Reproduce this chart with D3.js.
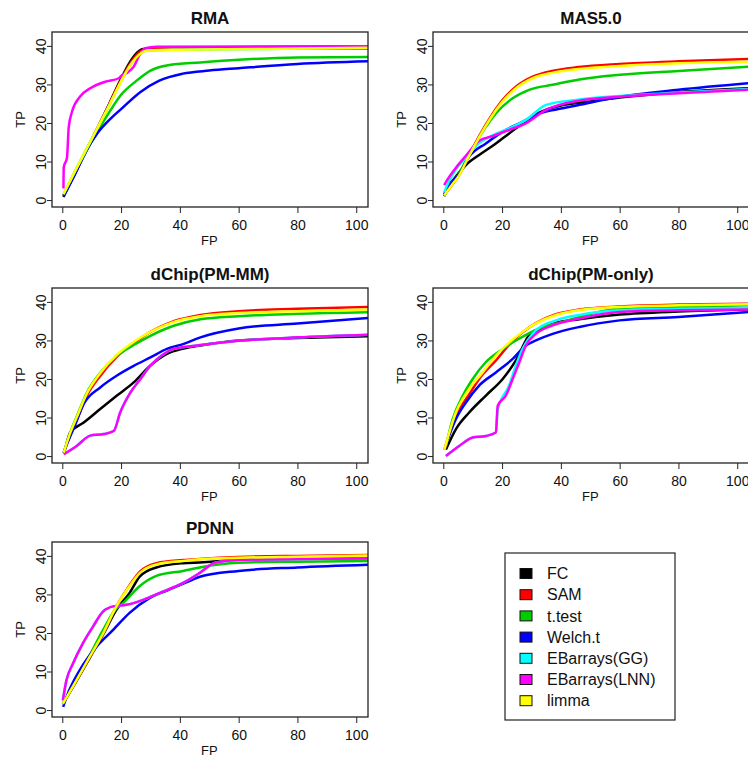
<!DOCTYPE html>
<html>
<head>
<meta charset="utf-8">
<script src="https://cdn.jsdelivr.net/npm/d3@7"></script>
<style>
body { margin: 0; background: #fff; }
svg text { font-family: "Liberation Sans", Arial, sans-serif; fill: #111; }
</style>
</head>
<body>
<script>
// Panel titles, methods and axis ticks
var panelTitles = ["RMA", "MAS5.0", "dChip(PM-MM)", "dChip(PM-only)", "PDNN"];
var methods = ["FC", "SAM", "t.test", "Welch.t", "EBarrays(GG)", "EBarrays(LNN)", "limma"];
var methodColors = ["#000000", "#ff0000", "#00cd00", "#0000ff", "#00ffff", "#ff00ff", "#ffff00"];
var xTicks = [0, 20, 40, 60, 80, 100];
var yTicks = [0, 10, 20, 30, 40];

// Curves, [FP, TP]
// RMA
var rmaFC = [[0.4,0.8],[4,6.3],[8,12.5],[12,18.6],[16,25],[20,31.5],[23,35.8],[25.5,38.3],[27.5,39.2],[35,39.3],[104,39.4]];
var rmaSAM = [[0.4,1.2],[4,6.8],[8,12.8],[12,18.8],[16,25],[20,31.2],[23,35.3],[26,38.2],[29,39.3],[45,39.6],[104,39.9]];
var rmaTtest = [[0.4,1.2],[4,6.6],[8,12.4],[12,17.8],[16,22.8],[20,27.3],[25,30.8],[30,33.6],[36,35],[47,35.7],[60,36.4],[80,37],[104,37.1]];
var rmaWelch = [[0.4,1],[4,6.2],[8,12.6],[12,17.4],[16,20.8],[20,23.6],[26.5,28],[33,31],[41,32.8],[50,33.6],[60,34.2],[80,35.3],[104,36]];
var rmaGG = [[0.4,1.5],[4,7],[8,12.9],[12,18.7],[16,24.6],[20,30.8],[23,34.8],[26,37.6],[29,38.8],[40,39],[70,39.2],[104,39.5]];
var rmaLNN = [[0.4,3],[0.5,8.5],[1.6,11],[2.2,19],[3.3,22.9],[6,26.8],[9.5,29],[14.6,30.7],[19.2,31.6],[20.3,32.4],[22,33],[24.3,34.6],[26,37.2],[28.2,39.4],[32,39.8],[104,39.9]];
var rmaLimma = [[0.4,1.5],[4,7],[8,12.9],[12,18.7],[16,24.6],[20,30.8],[23,34.8],[26,37.6],[29,38.8],[40,39],[70,39.2],[104,39.5]];

// MAS5.0
var masFC = [[0.3,1],[2,3.5],[4.3,6.1],[7.7,9.1],[12.2,11.7],[17.9,14.7],[22.4,17.3],[27,19.9],[33,22.8],[40,24.5],[50,25.6],[60,26.6],[80,28],[104,29]];
var masSAM = [[0.3,1.2],[3,4],[5.4,6.5],[8,10.5],[10,13.5],[14.5,19.6],[20,25.8],[24.7,29.4],[30.4,32],[37,33.5],[46,34.5],[60,35.3],[80,36],[104,36.6]];
var masTtest = [[0.3,1.2],[3,4.2],[5.4,7],[8,10.6],[10,13],[12,16],[14.5,19],[17.9,22.5],[23.6,26.4],[29.2,28.6],[37.2,29.9],[46.3,31.3],[60,32.5],[80,33.5],[104,34.6]];
var masWelch = [[0.3,1.5],[2,4],[5.4,6.7],[8.8,11.3],[14.5,14.7],[21.3,18.2],[25.9,19.9],[32.7,22.5],[40.6,23.8],[46.3,24.7],[60,26.8],[80,28.6],[104,30.3]];
var masGG = [[0.3,2],[2,5],[4.3,8],[7.7,11],[12.2,14.8],[16.8,16.8],[22.4,18.6],[28.1,20.8],[35,24.7],[46.3,26.1],[60,27],[80,27.9],[104,28.8]];
var masLNN = [[0.3,3.9],[2,6],[4.3,8.4],[7.7,11.5],[12.2,15.4],[16.8,16.6],[22.4,18.2],[28.1,19.9],[35,23.4],[46.3,25.8],[60,26.8],[80,27.7],[104,28.6]];
var masLimma = [[0.3,1.2],[3,4],[5.4,6.4],[8,10.3],[10,13.2],[14.5,19.3],[20,25.4],[24.7,29],[30.4,31.6],[37,33],[46,34],[60,34.8],[80,35.5],[104,35.9]];

// dChip(PM-MM)
var pmmmFC = [[0.5,0.9],[0.9,1.8],[2.7,6.1],[7.3,8.7],[12.9,12.2],[18.6,15.7],[24.3,19.1],[30,23.5],[35.6,26.5],[41.3,27.9],[47,28.7],[60,30],[80,30.6],[104,31.1]];
var pmmmSAM = [[0.5,0.9],[2.7,5.5],[5,9.5],[8.4,15.7],[12.9,20.8],[18.6,25.8],[24.3,29.3],[30,32.2],[37.9,35],[47,36.6],[60,37.6],[80,38.2],[104,38.7]];
var pmmmTtest = [[0.5,0.9],[2.7,6.1],[5,10.4],[8.4,16.5],[12.9,21.6],[18.6,26],[24.3,28.8],[30,31.2],[37.9,33.8],[47,35.5],[60,36.3],[80,36.9],[104,37.3]];
var pmmmWelch = [[0.5,0.9],[1.6,3.1],[4,7.4],[7.3,13.5],[12.9,17.8],[18.6,20.9],[24.3,23.4],[30,25.6],[35.6,27.8],[41.3,29.1],[47,30.8],[60,33.1],[80,34.4],[104,35.8]];
var pmmmGG = [[0.5,0.5],[5,2.7],[9.5,5.3],[14.1,5.7],[17.5,6.5],[19.7,11.3],[23.2,16.5],[26.6,20],[30,23.5],[33.8,26.1],[38,27.8],[47,28.8],[60,29.9],[80,30.8],[104,31.5]];
var pmmmLNN = [[0.5,0.5],[5,2.7],[9.5,5.3],[14.1,5.7],[17.5,6.5],[19.7,11.3],[23.2,16.5],[26.6,20],[30,23.5],[33.8,26.1],[38,27.8],[47,28.8],[60,29.9],[80,30.8],[104,31.5]];
var pmmmLimma = [[0.5,0.9],[2.7,6],[5,10.2],[8.4,16.3],[12.9,21.5],[18.6,26.3],[24.3,29.6],[30,32.2],[37.9,34.8],[47,36.3],[60,37.1],[80,37.6],[104,38]];

// dChip(PM-only)
var pmoFC = [[0.9,1.7],[4.3,7],[8.8,11.3],[14.5,15.7],[20.2,20],[24.7,24.8],[29.2,31.3],[32,32.6],[38,34.5],[46.3,35.5],[60,36.7],[80,37.5],[104,38]];
var pmoSAM = [[0.4,1.7],[4.3,10.5],[8.8,16],[12.2,20],[17.9,24.8],[22,28.5],[26,31.5],[31.5,34.5],[38.3,36.8],[46.3,38],[60,38.8],[80,39.3],[104,39.5]];
var pmoTtest = [[0.9,2.6],[3.2,9.6],[6.6,15.6],[10,20],[14.5,24.4],[20.2,27.8],[25.9,30.5],[32.7,33.1],[40.6,34.8],[46.3,36.1],[60,38.2],[80,38.6],[104,39.1]];
var pmoWelch = [[1.5,4.3],[4.3,9.6],[7.7,13.9],[12.2,18.3],[17.9,21.7],[23.6,25.2],[28.1,28.7],[31.5,30],[37.2,31.7],[46.3,33.5],[60,35.2],[80,36.1],[104,37.4]];
var pmoGG = [[0.9,0],[5.4,2.6],[10,4.8],[14.5,5.2],[17.9,6.1],[18.5,12],[22.4,18.3],[24.7,23.5],[27,27.8],[31.5,32.6],[38.3,35.2],[46.3,36.6],[60,37.8],[80,38.2],[104,38.5]];
var pmoLNN = [[0.9,0],[5.4,2.6],[10,4.8],[14.5,5.2],[17.9,6.1],[18.5,13],[21.3,15.7],[23.6,20],[25.9,24.4],[28.1,28.7],[31.5,31.7],[37.2,33.9],[46.3,35.7],[60,37.4],[80,37.8],[104,38]];
var pmoLimma = [[0.4,1.7],[4.3,11.3],[8.8,17.4],[13.4,21.7],[19,27],[24.7,30.9],[31.5,34.4],[38.3,36.6],[46.3,37.9],[60,38.7],[80,39.1],[104,39.4]];

// PDNN
var pdnnFC = [[0.2,1.6],[4.8,7.5],[9.3,13.5],[13.9,19.6],[18.4,26],[22.9,30.4],[26.4,34.7],[32,37],[41.1,38.1],[46.8,38.3],[60,39],[80,39.2],[104,39.4]];
var pdnnSAM = [[0.2,1.6],[4.8,7.7],[9.3,13.8],[13.9,19.9],[18.4,26.9],[22.9,32.4],[26.4,35.9],[32,38.1],[41.1,38.9],[46.8,39.2],[60,39.7],[80,40],[104,40.2]];
var pdnnTtest = [[0.2,1.6],[4.8,7.9],[9.3,14.2],[13.9,20.8],[18,26],[20.7,27.8],[26.4,32.2],[32,34.8],[41.1,36.1],[46.8,37],[60,38.2],[80,38.5],[104,38.7]];
var pdnnWelch = [[0.3,0.8],[1.4,3.3],[5.9,10.3],[11.6,16.4],[17.3,20.8],[22.9,25.2],[29.8,29.1],[36.6,31.3],[43.4,33.5],[46.8,34.6],[60,36.1],[80,37],[104,37.7]];
var pdnnGG = [[0.2,2.5],[1.4,7.7],[3.6,12],[7,17.3],[10.4,21.6],[13.9,25.6],[17.3,26.9],[21.8,27.3],[27.5,28.6],[33.2,30.4],[41.1,33],[46.8,35.6],[52,38.2],[60,38.9],[80,39.2],[104,39.3]];
var pdnnLNN = [[0.2,2.5],[1.4,7.7],[3.6,12],[7,17.3],[10.4,21.6],[13.9,25.6],[17.3,26.9],[21.8,27.3],[27.5,28.6],[33.2,30.4],[41.1,33],[46.8,35.6],[52,38.2],[60,38.9],[80,39.2],[104,39.3]];
var pdnnLimma = [[0.2,1.6],[4.8,7.7],[9.3,13.8],[13.9,19.9],[18.4,26.9],[22.9,32.2],[26.4,35.6],[32,37.8],[41.1,38.7],[46.8,39.1],[60,39.5],[80,39.8],[104,40.1]];

// one row of curves per panel, in method order
var panelCurves = [
	[rmaFC, rmaSAM, rmaTtest, rmaWelch, rmaGG, rmaLNN, rmaLimma],
	[masFC, masSAM, masTtest, masWelch, masGG, masLNN, masLimma],
	[pmmmFC, pmmmSAM, pmmmTtest, pmmmWelch, pmmmGG, pmmmLNN, pmmmLimma],
	[pmoFC, pmoSAM, pmoTtest, pmoWelch, pmoGG, pmoLNN, pmoLimma],
	[pdnnFC, pdnnSAM, pdnnTtest, pdnnWelch, pdnnGG, pdnnLNN, pdnnLimma]
];

// Layout of the 3x2 grid
var width = 748, height = 758;
var boxW = 316, boxH = 175;
var colLeft = [52, 433];
var rowTop = [32, 288, 542];

var svg = d3.select("body").append("svg")
	.attr("width", width)
	.attr("height", height);

// same scales for every panel
var x = d3.scaleLinear().domain([-3.5, 104]).range([0, boxW]);
var y = d3.scaleLinear().domain([-1.8, 43.6]).range([boxH, 0]);

var line = d3.line()
	.curve(d3.curveMonotoneX) // smooth the read-off points a little
	.x(function(d) { return x(d[0]); })
	.y(function(d) { return y(d[1]); });

panelCurves.forEach(function(curves, i) {
	var left = colLeft[i % 2], top = rowTop[Math.floor(i / 2)];
	var g = svg.append("g")
		.attr("transform", "translate(" + left + "," + top + ")");

	g.append("clipPath").attr("id", "clip" + i)
		.append("rect").attr("width", boxW).attr("height", boxH);

	// title
	g.append("text")
		.attr("x", boxW / 2).attr("y", -8)
		.attr("text-anchor", "middle")
		.style("font-size", "17px").style("font-weight", "bold")
		.text(panelTitles[i]);

	// x axis
	var xg = g.append("g")
		.attr("transform", "translate(0," + boxH + ")")
		.call(d3.axisBottom(x).tickValues(xTicks).tickSize(6).tickPadding(7));
	xg.select(".domain").remove();
	xg.selectAll("line").attr("stroke", "#222");
	xg.selectAll("text").style("font-size", "14px").attr("fill", "#111");

	// y axis, labels turned like R does
	var yg = g.append("g")
		.call(d3.axisLeft(y).tickValues(yTicks).tickSize(5));
	yg.select(".domain").remove();
	yg.selectAll("line").attr("stroke", "#222");
	yg.selectAll("text")
		.attr("x", null).attr("dy", null)
		.attr("transform", "translate(-6,0) rotate(-90)")
		.attr("text-anchor", "middle")
		.style("font-size", "14px").attr("fill", "#111");

	// axis titles
	g.append("text")
		.attr("x", x(50)).attr("y", boxH + 38)
		.attr("text-anchor", "middle")
		.style("font-size", "13px")
		.text("FP");
	g.append("text")
		.attr("transform", "translate(-27," + (boxH / 2) + ") rotate(-90)")
		.attr("text-anchor", "middle")
		.style("font-size", "13px")
		.text("TP");

	// the curves
	g.append("g").attr("clip-path", "url(#clip" + i + ")")
		.selectAll("path")
		.data(curves)
		.enter().append("path")
		.attr("d", line)
		.attr("fill", "none")
		.attr("stroke", function(d, j) { return methodColors[j]; })
		.attr("stroke-width", 2.5)
		.attr("stroke-linejoin", "round");

	// box round the plot
	g.append("rect")
		.attr("width", boxW).attr("height", boxH)
		.attr("fill", "none")
		.attr("stroke", "#222")
		.attr("stroke-width", 1.3);
});

// legend in the empty sixth cell
var legend = svg.append("g").attr("transform", "translate(505,553)");
legend.append("rect")
	.attr("width", 170).attr("height", 167)
	.attr("fill", "#fff")
	.attr("stroke", "#222")
	.attr("stroke-width", 1.2);

var item = legend.selectAll(".item")
	.data(methods)
	.enter().append("g")
	.attr("class", "item")
	.attr("transform", function(d, i) { return "translate(0," + (20.5 + i * 21.2) + ")"; });

item.append("rect")
	.attr("x", 15).attr("y", -5)
	.attr("width", 12).attr("height", 10)
	.attr("fill", function(d, i) { return methodColors[i]; })
	.attr("stroke", "#111");

item.append("text")
	.attr("x", 42).attr("dy", "0.35em")
	.style("font-size", "16px")
	.text(function(d) { return d; });
</script>
</body>
</html>
